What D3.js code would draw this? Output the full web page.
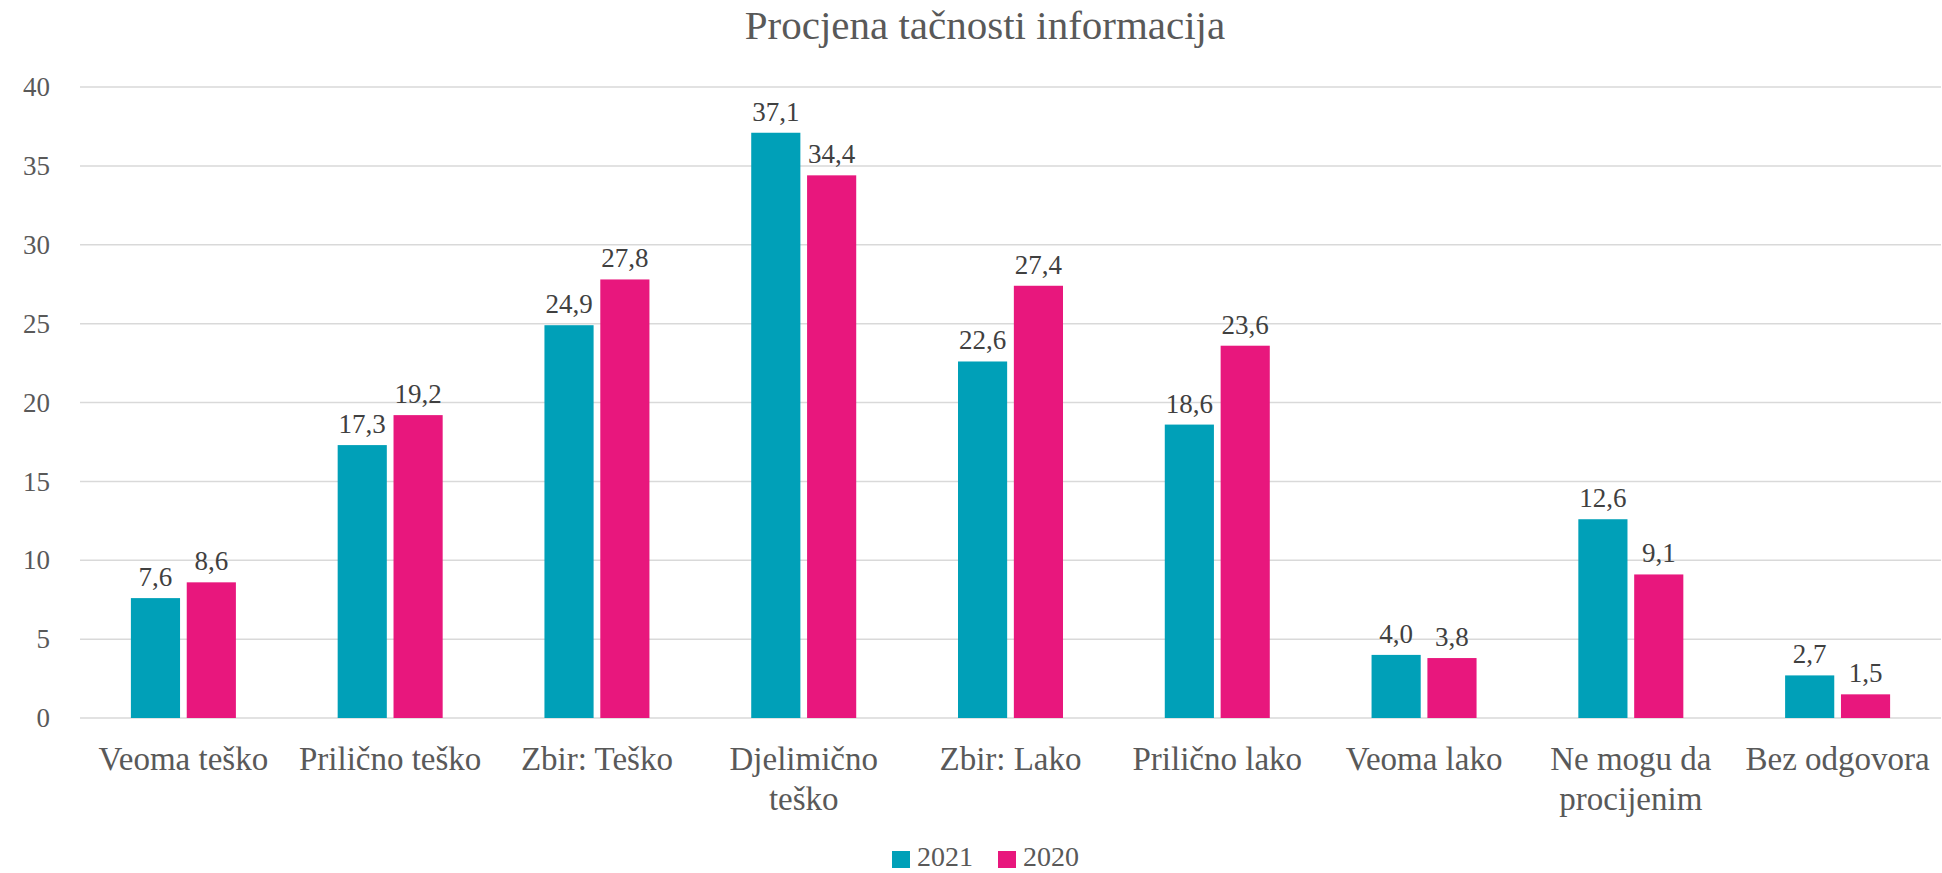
<!DOCTYPE html>
<html>
<head>
<meta charset="utf-8">
<script src="https://cdn.jsdelivr.net/npm/d3@7"></script>
<style>
  body { margin: 0; background: #fff; }
  svg { display: block; font-family: "Liberation Serif", "DejaVu Serif", serif; }
</style>
</head>
<body>
<div id="chart"></div>
<script>
const categories = ["Veoma teško", "Prilično teško", "Zbir: Teško", "Djelimično teško", "Zbir: Lako", "Prilično lako", "Veoma lako", "Ne mogu da procijenim", "Bez odgovora"];
const values2021 = [7.6, 17.3, 24.9, 37.1, 22.6, 18.6, 4.0, 12.6, 2.7];
const values2020 = [8.6, 19.2, 27.8, 34.4, 27.4, 23.6, 3.8, 9.1, 1.5];
const seriesNames = ["2021", "2020"];
const yTicks = [0, 5, 10, 15, 20, 25, 30, 35, 40];
// manual line breaks for the long category labels
const labelLines = {
    "Djelimično teško": ["Djelimično", "teško"],
    "Ne mogu da procijenim": ["Ne mogu da", "procijenim"]
};

const width = 1942;
const height = 873;
const margin = { top: 87, right: 1, bottom: 155, left: 80 };

const data = categories.map((c, i) => ({ cat: c, v: [values2021[i], values2020[i]] }));

const x = d3.scaleBand()
    .domain(categories)
    .range([margin.left, width - margin.right])
    .paddingInner(0)
    .paddingOuter(0);

const x1 = d3.scaleBand()
    .domain(seriesNames)
    .range([0, 105])
    .paddingInner(0.12);

const y = d3.scaleLinear()
    .domain([0, 40])
    .range([height - margin.bottom, margin.top]);

const color = d3.scaleOrdinal()
    .domain(seriesNames)
    .range(["#00A0B8", "#E8177D"]);

const svg = d3.select('#chart')
    .append('svg')
    .attr('width', width)
    .attr('height', height);

// title
svg.append('text')
    .attr('x', 985)
    .attr('y', 39)
    .attr('text-anchor', 'middle')
    .attr('fill', '#595959')
    .attr('font-size', '41px')
    .text('Procjena tačnosti informacija');

// gridlines
svg.append('g')
    .selectAll('line')
    .data(yTicks)
    .join('line')
    .attr('x1', margin.left)
    .attr('x2', width - margin.right)
    .attr('y1', d => y(d))
    .attr('y2', d => y(d))
    .attr('stroke', '#d9d9d9')
    .attr('stroke-width', 1.5);

// y axis labels
svg.append('g')
    .attr('transform', `translate(${margin.left - 30}, 0)`)
    .call(d3.axisLeft(y).tickValues(yTicks).tickSize(0).tickPadding(0))
    .attr('font-family', null)
    .attr('font-size', null)
    .call(g => g.select('.domain').remove())
    .selectAll('text')
    .attr('font-size', '27px')
    .attr('fill', '#595959');

// bars
const groups = svg.append('g')
    .selectAll('g')
    .data(data)
    .join('g')
    .attr('transform', d => `translate(${x(d.cat) + x.bandwidth() / 2 - 52.5}, 0)`);

groups.selectAll('rect')
    .data(d => d.v.map((v, i) => ({ s: seriesNames[i], v })))
    .join('rect')
    .attr('x', d => x1(d.s))
    .attr('y', d => y(d.v))
    .attr('width', x1.bandwidth())
    .attr('height', d => y(0) - y(d.v))
    .attr('fill', d => color(d.s));

// data labels
groups.selectAll('text')
    .data(d => d.v.map((v, i) => ({ s: seriesNames[i], v })))
    .join('text')
    .attr('x', d => x1(d.s) + x1.bandwidth() / 2)
    .attr('y', d => y(d.v) - 12)
    .attr('text-anchor', 'middle')
    .attr('font-size', '27px')
    .attr('fill', '#404040')
    .text(d => d.v.toFixed(1).replace('.', ','));

// x axis labels
const xl = svg.append('g')
    .selectAll('text')
    .data(categories)
    .join('text')
    .attr('x', d => x(d) + x.bandwidth() / 2)
    .attr('y', 770)
    .attr('text-anchor', 'middle')
    .attr('font-size', '33px')
    .attr('fill', '#595959');

xl.selectAll('tspan')
    .data(d => labelLines[d] || [d])
    .join('tspan')
    .attr('x', function() { return d3.select(this.parentNode).attr('x'); })
    .attr('dy', (d, i) => i === 0 ? 0 : 40)
    .text(d => d);

// legend
const legend = svg.append('g')
    .attr('transform', 'translate(892, 851)');

const li = legend.selectAll('g')
    .data(seriesNames)
    .join('g')
    .attr('transform', (d, i) => `translate(${i * 106}, 0)`);

li.append('rect')
    .attr('width', 18)
    .attr('height', 17)
    .attr('fill', d => color(d));

li.append('text')
    .attr('x', 25)
    .attr('y', 15)
    .attr('font-size', '28px')
    .attr('fill', '#595959')
    .text(d => d);
</script>
</body>
</html>
